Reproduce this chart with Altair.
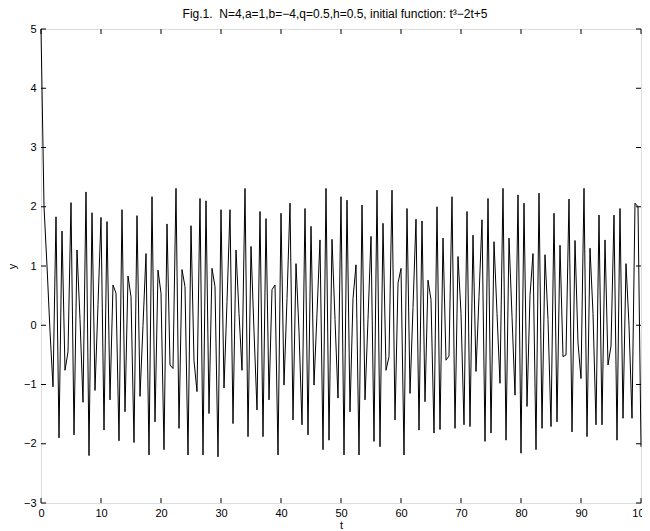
import altair as alt
import pandas as pd

# Series values (h = 0.5 step, t from 0 to 100)
y_values = [
    5.0, 2.0, 1.0, -0.1, -1.04, 1.83, -1.9, 1.59, -0.76, -0.45,
    2.07, -1.85, 1.27, 0.1, -1.3, 2.25, -2.2, 1.9, -1.1, 0.35,
    1.82, -1.77, 1.75, -1.26, 0.68, 0.54, -1.95, 1.95, -1.46, 0.83,
    0.48, -1.98, 1.85, -1.2, 0.0, 1.21, -2.19, 2.17, -1.63, 0.93,
    0.54, -2.1, 1.71, -0.67, -0.73, 2.31, -1.74, 0.94, 0.65, -2.19,
    1.68, -0.6, -1.12, 2.14, -2.19, 2.1, -1.49, 0.96, 0.65, -2.22,
    1.95, -1.06, 0.4, 1.95, -1.66, 1.27, 0.2, -0.76, 2.31, -1.88,
    1.33, -0.1, -1.43, 1.92, -1.88, 1.8, -1.26, 0.6, 0.68, -2.19,
    1.89, -1.01, 0.45, 2.06, -1.6, 1.04, -0.1, -1.68, 1.97, -1.85,
    1.67, -1.01, 0.2, 1.44, -2.1, 2.31, -1.94, 1.45, 0.1, -1.23,
    2.17, -2.19, 2.11, -1.46, 0.45, 1.02, -2.19, 2.03, -1.26, 0.1,
    1.5, -1.96, 2.28, -2.05, 1.72, -0.76, -0.53, 2.28, -1.6, 0.71,
    0.96, -2.19, 1.97, -1.15, 0.3, 1.79, -1.77, 1.76, -1.29, 0.76,
    0.43, -1.82, 2.0, -1.76, 1.47, -0.59, -0.52, 2.17, -1.74, 1.16,
    0.2, -1.68, 1.92, -1.71, 1.52, -0.78, 0.48, 1.78, -1.96, 2.14,
    -1.82, 1.41, 0.2, -0.98, 2.31, -1.94, 1.47, 0.15, -1.18, 2.2,
    -2.16, 2.06, -1.37, 0.5, 1.21, -2.1, 2.23, -1.74, 1.19, 0.1,
    -1.71, 1.89, -1.63, 1.35, -0.53, -0.5, 2.13, -1.8, 1.43, -0.3,
    -0.9, 2.31, -1.88, 1.3, 0.2, -1.68, 1.86, -1.68, 1.44, -0.67,
    -0.35, 1.86, -1.94, 1.97, -1.57, 1.04, 0.0, -1.57, 2.06, 2.0,
    -2.05,
]
h = 0.5
x_ticks = [0, 10, 20, 30, 40, 50, 60, 70, 80, 90, 100]
y_ticks = [-3, -2, -1, 0, 1, 2, 3, 4, 5]
title_text = "Fig.1.\u00a0 N=4,a=1,b=\u22124,q=0.5,h=0.5, initial function: t\u00b3\u22122t+5"

t_values = [i * h for i in range(len(y_values))]
df = pd.DataFrame({"t": t_values, "y": y_values})
xt = pd.DataFrame({"t": x_ticks})
yt = pd.DataFrame({"y": y_ticks})

W, H = 600, 474
TL = 5
FONT = "Liberation Sans"

xs = alt.Scale(domain=[0, 100], nice=False, zero=False)
ys = alt.Scale(domain=[-3, 5], nice=False, zero=False)

x_axis = alt.Axis(
    values=x_ticks, title="t", ticks=False, domain=False, grid=False,
    labelPadding=4, labelFontSize=11, titleFontSize=11, titleFontWeight="normal",
    labelFont=FONT, titleFont=FONT, labelColor="black", titleColor="black",
    titlePadding=1, labelFlush=False)
y_axis = alt.Axis(
    values=y_ticks, title="y", ticks=False, domain=False, grid=False,
    labelPadding=5, labelFontSize=11, titleFontSize=11, titleFontWeight="normal",
    labelFont=FONT, titleFont=FONT, labelColor="black", titleColor="black",
    titlePadding=6, labelFlush=False)

line = alt.Chart(df).mark_line(color="black", strokeWidth=1).encode(
    x=alt.X("t:Q", scale=xs, axis=x_axis),
    y=alt.Y("y:Q", scale=ys, axis=y_axis),
)

bottom_ticks = alt.Chart(xt).mark_rule(color="black", strokeWidth=1).encode(
    x=alt.X("t:Q", scale=xs, axis=x_axis), y=alt.value(H), y2=alt.value(H - TL))
top_ticks = alt.Chart(xt).mark_rule(color="black", strokeWidth=1).encode(
    x=alt.X("t:Q", scale=xs, axis=x_axis), y=alt.value(0), y2=alt.value(TL))
left_ticks = alt.Chart(yt).mark_rule(color="black", strokeWidth=1).encode(
    y=alt.Y("y:Q", scale=ys, axis=y_axis), x=alt.value(0), x2=alt.value(TL))
right_ticks = alt.Chart(yt).mark_rule(color="black", strokeWidth=1).encode(
    y=alt.Y("y:Q", scale=ys, axis=y_axis), x=alt.value(W), x2=alt.value(W - TL))

chart = alt.layer(line, bottom_ticks, top_ticks, left_ticks, right_ticks).properties(
    width=W, height=H,
    title=alt.TitleParams(title_text, fontSize=12, fontWeight="normal", font=FONT,
                          color="black", anchor="middle", frame="group",
                          offset=2, dx=-6),
    autosize=alt.AutoSizeParams(type="none"),
    padding={"left": 33, "top": 21, "right": 1, "bottom": 28},
).configure_view(stroke="black", strokeWidth=1).configure(background="white")

chart.save("out.html", embed_options={"renderer": "svg", "actions": False})
